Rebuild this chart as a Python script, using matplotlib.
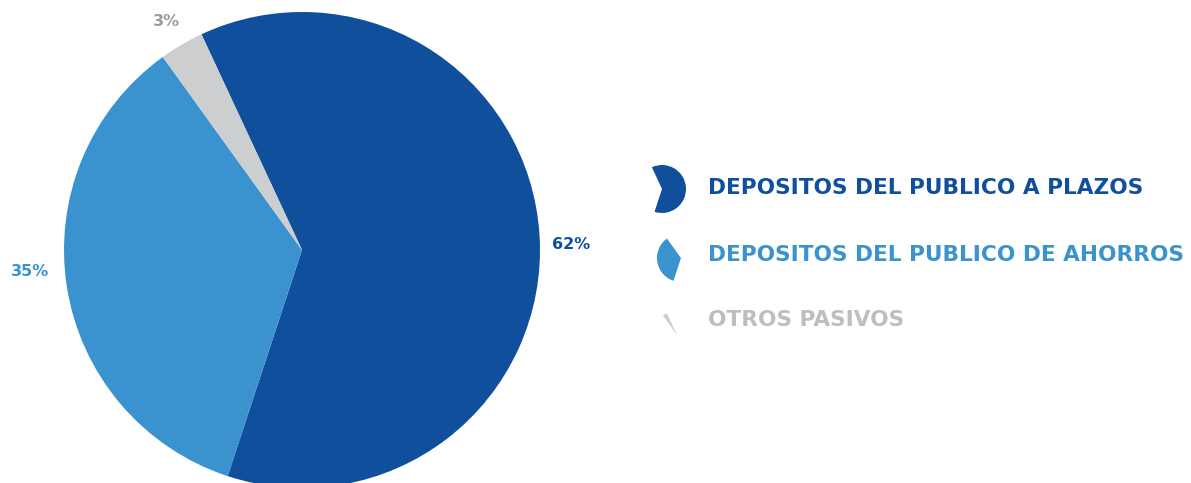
import matplotlib
matplotlib.use("Agg")
import matplotlib.pyplot as plt

# datos
categorias = ["DEPOSITOS DEL PUBLICO A PLAZOS",
              "DEPOSITOS DEL PUBLICO DE AHORROS",
              "OTROS PASIVOS"]
valores = [62, 35, 3]
colores = ["#0f4f9c", "#3a93cf", "#cdcecf"]
colores_texto = ["#0f4f9c", "#3a93cf", "#9b9c9e"]
colores_leyenda = ["#0f4f9c", "#3a93cf", "#bdbec0"]

W, H = 1191, 483
plt.rcParams['font.family'] = ['DejaVu Sans']

fig = plt.figure(figsize=(W / 100, H / 100), dpi=100)

# pastel principal
cx, cy, r = 302, 250, 238
ax = fig.add_axes([(cx - r) / W, (H - cy - r) / H, 2 * r / W, 2 * r / H])
wedges, textos, pcts = ax.pie(valores, colors=colores, startangle=115, counterclock=False,
                              radius=1, autopct='%d%%', pctdistance=1.13,
                              wedgeprops=dict(linewidth=0))
# posiciones de las etiquetas (como en el original, no exactamente al centro)
pos_etiquetas = [(1.13, 0.025), (-1.143, -0.092), (-0.571, 0.958)]
for t, c, p in zip(pcts, colores_texto, pos_etiquetas):
    t.set_color(c)
    t.set_fontsize(11.5)
    t.set_fontweight('bold')
    t.set_position(p)
ax.set_xlim(-1, 1)
ax.set_ylim(-1, 1)
ax.set_aspect('equal')
ax.axis('off')

# iconos de leyenda: porciones pequeñas del pastel
centros = [(662, 189), (681, 258), (677, 335)]
ri = 24
filas_y = [188, 255, 320]
for i, (icx, icy) in enumerate(centros):
    iax = fig.add_axes([(icx - ri) / W, (H - icy - ri) / H, 2 * ri / W, 2 * ri / H])
    cols = ["none"] * len(valores)
    cols[i] = colores[i]
    iax.pie(valores, colors=cols, startangle=115, counterclock=False, radius=1,
            wedgeprops=dict(linewidth=0))
    iax.set_xlim(-1, 1)
    iax.set_ylim(-1, 1)
    iax.set_aspect('equal')
    iax.axis('off')
    fig.text(708 / W, (H - filas_y[i]) / H, categorias[i], color=colores_leyenda[i],
             fontsize=15.6, fontweight='bold', va='center', ha='left')

fig.savefig("out.png", dpi=100)
